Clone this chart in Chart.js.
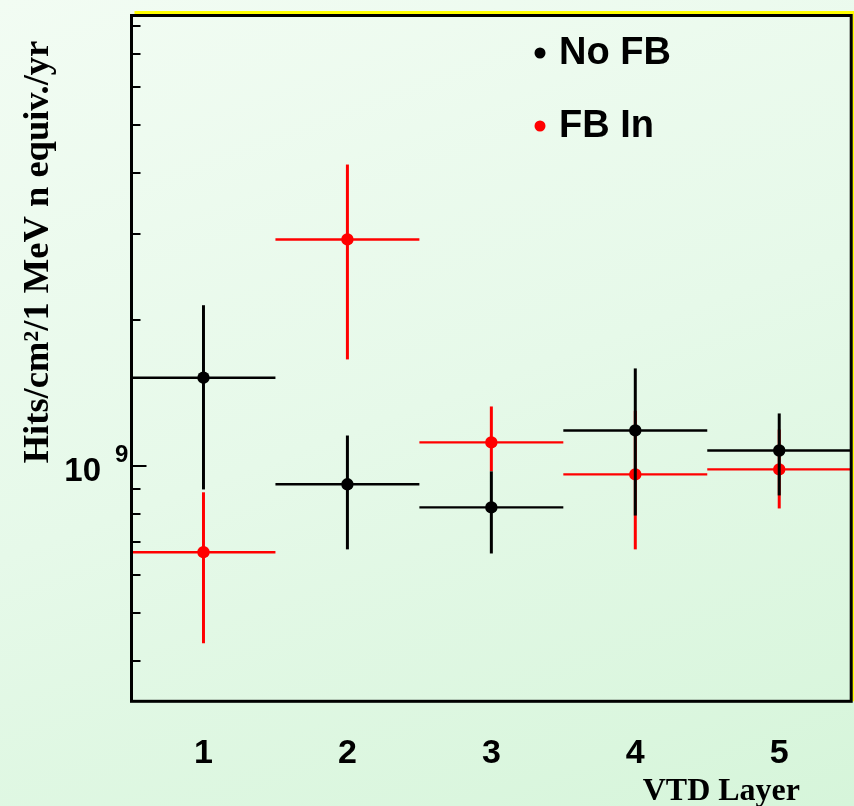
<!DOCTYPE html>
<html>
<head>
<meta charset="utf-8">
<title>VTD layer hit rates</title>
<script src="https://cdn.jsdelivr.net/npm/chart.js@4"></script>
<style>
    html, body {
        margin: 0;
        padding: 0;
        width: 854px;
        height: 806px;
        overflow: hidden;
        background: linear-gradient(160deg, #f2fcf3 0%, #e6f9e9 50%, #d6f5da 100%);
    }
    canvas { display: block; }
</style>
</head>
<body>
<canvas id="layerChart" width="854" height="806"></canvas>
<script>
const layers = [1, 2, 3, 4, 5];

// No FB
const noFbValues = [1.52e9, 0.919e9, 0.824e9, 1.185e9, 1.078e9];
const noFbUpper  = [2.14e9, 1.157e9, 0.977e9, 1.588e9, 1.284e9];
const noFbLower  = [0.897e9, 0.676e9, 0.663e9, 0.793e9, 0.872e9];

// FB In
const fbInValues = [0.667e9, 2.919e9, 1.120e9, 0.963e9, 0.986e9];
const fbInUpper  = [0.885e9, 4.157e9, 1.327e9, 1.30e9, 1.19e9];
const fbInLower  = [0.434e9, 1.657e9, 0.977e9, 0.676e9, 0.820e9];

const yTickValues = [4e8, 5e8, 6e8, 7e8, 8e8, 9e8, 1e9, 2e9, 3e9, 4e9, 5e9, 6e9, 7e9, 8e9];
const yMajorTick = 1e9;

const xTitle = 'VTD Layer';
const yTitle = 'Hits/cm\u00B2/1 MeV n equiv./yr';

const series = [
    { label: 'No FB', color: '#000000', values: noFbValues, upper: noFbUpper, lower: noFbLower },
    { label: 'FB In', color: '#ff0000', values: fbInValues, upper: fbInUpper, lower: fbInLower }
];

const SANS = '"Liberation Sans", Arial, sans-serif';
const SERIF = '"Liberation Serif", "Times New Roman", serif';

// error bars go under each dataset's own markers
const errorBars = {
    id: 'errorBars',
    beforeDatasetDraw(chart, args) {
        const s = series[args.index];
        const xs = chart.scales.x;
        const ys = chart.scales.y;
        const ctx = chart.ctx;
        ctx.save();
        ctx.strokeStyle = s.color;
        layers.forEach((layer, i) => {
            const x = xs.getPixelForValue(layer);
            const y = ys.getPixelForValue(s.values[i]);
            ctx.lineWidth = 2.4;
            ctx.beginPath();
            ctx.moveTo(xs.getPixelForValue(layer - 0.5), y);
            ctx.lineTo(xs.getPixelForValue(layer + 0.5), y);
            ctx.stroke();
            ctx.lineWidth = 3;
            ctx.beginPath();
            ctx.moveTo(x, ys.getPixelForValue(s.upper[i]));
            ctx.lineTo(x, ys.getPixelForValue(s.lower[i]));
            ctx.stroke();
        });
        ctx.restore();
    }
};

// ROOT style frame: inner ticks, yellow edge, labels and legend
const rootFrame = {
    id: 'rootFrame',
    beforeDatasetsDraw(chart) {
        const ctx = chart.ctx;
        const area = chart.chartArea;
        const ys = chart.scales.y;
        ctx.save();
        ctx.strokeStyle = '#000';
        ctx.lineWidth = 2;
        yTickValues.forEach(v => {
            const y = Math.round(ys.getPixelForValue(v));
            const len = v === yMajorTick ? 15 : 9;
            ctx.beginPath();
            ctx.moveTo(area.left, y);
            ctx.lineTo(area.left + len, y);
            ctx.stroke();
        });
        ctx.restore();
    },
    afterDraw(chart) {
        const ctx = chart.ctx;
        const area = chart.chartArea;
        const xs = chart.scales.x;
        const ys = chart.scales.y;
        ctx.save();

        // yellow edge along top and right
        ctx.strokeStyle = '#ffff00';
        ctx.lineWidth = 3;
        ctx.beginPath();
        ctx.moveTo(area.left + 3, area.top - 3);
        ctx.lineTo(area.right + 2.5, area.top - 3);
        ctx.lineTo(area.right + 2.5, area.bottom);
        ctx.stroke();

        ctx.strokeStyle = '#000';
        ctx.lineWidth = 3;
        ctx.strokeRect(area.left, area.top, area.right - area.left, area.bottom - area.top);

        ctx.fillStyle = '#000';

        // x tick labels
        ctx.font = 'bold 34px ' + SANS;
        ctx.textAlign = 'center';
        ctx.textBaseline = 'alphabetic';
        layers.forEach(layer => {
            ctx.fillText(String(layer), xs.getPixelForValue(layer), 763);
        });

        // y label 10^9
        const y9 = ys.getPixelForValue(yMajorTick);
        ctx.textAlign = 'right';
        ctx.font = 'bold 33px ' + SANS;
        ctx.fillText('10', 101, y9 + 15);
        ctx.textAlign = 'left';
        ctx.font = 'bold 24px ' + SANS;
        ctx.fillText('9', 115, y9 - 4);

        // axis titles
        ctx.font = 'bold 32px ' + SERIF;
        ctx.textAlign = 'right';
        ctx.fillText(xTitle, 800, 800);

        ctx.font = 'bold 36.5px ' + SERIF;
        ctx.translate(48, 252);
        ctx.rotate(-Math.PI / 2);
        ctx.textAlign = 'center';
        ctx.fillText(yTitle, 0, 0);
        ctx.setTransform(1, 0, 0, 1, 0, 0);

        // legend
        const legendY = [53, 126];
        ctx.font = 'bold 38px ' + SANS;
        ctx.textAlign = 'left';
        ctx.textBaseline = 'middle';
        series.forEach((s, i) => {
            ctx.fillStyle = s.color;
            ctx.beginPath();
            ctx.arc(540, legendY[i], 5.5, 0, Math.PI * 2);
            ctx.fill();
            ctx.fillStyle = '#000';
            ctx.fillText(s.label, 559, legendY[i] + 1);
        });

        ctx.restore();
    }
};

new Chart(document.getElementById('layerChart'), {
    type: 'scatter',
    data: {
        datasets: series.map(s => ({
            label: s.label,
            data: layers.map((layer, i) => ({ x: layer, y: s.values[i] })),
            backgroundColor: s.color,
            borderColor: s.color,
            borderWidth: 0,
            pointRadius: 6.2,
            pointHoverRadius: 6.2
        }))
    },
    options: {
        responsive: false,
        animation: false,
        layout: {
            autoPadding: false,
            padding: { left: 131.5, right: 2.8, top: 15.5, bottom: 104.7 }
        },
        scales: {
            x: { type: 'linear', min: 0.5, max: 5.5, display: false },
            y: { type: 'logarithmic', min: 3.3e8, max: 8.4e9, display: false }
        },
        plugins: {
            legend: { display: false },
            tooltip: { enabled: false }
        }
    },
    plugins: [errorBars, rootFrame]
});
</script>
</body>
</html>
